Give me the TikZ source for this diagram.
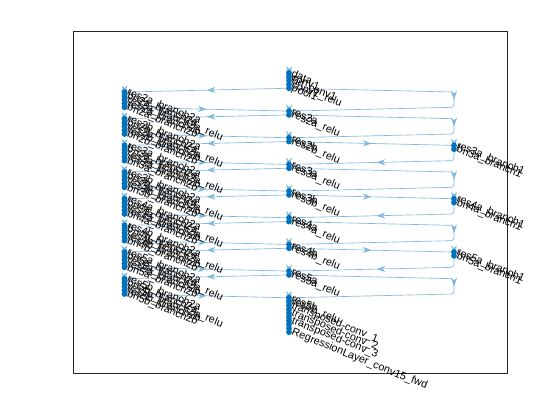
\documentclass[tikz,border=0pt]{standalone}
\usepackage{fontspec}
\setmainfont{Liberation Sans}
\usetikzlibrary{arrows.meta,decorations.markings}
\definecolor{nodeblue}{rgb}{0,0.447,0.741}
\definecolor{edgeblue}{rgb}{0.5,0.724,0.871}
\definecolor{axisgray}{rgb}{0.15,0.15,0.15}
\pgfdeclarelayer{edges}
\pgfsetlayers{edges,main}

\tikzset{
  layer/.style={circle, fill=nodeblue, inner sep=0pt, minimum size=5.8pt, label distance=2.6pt},
  lbl/.style={anchor=west, rotate=-22, inner sep=0pt, font=\fontsize{10.8}{12}\selectfont},
  conn/.style={edgeblue, line width=0.65pt, postaction={decorate},
    decoration={markings, mark=at position 0.5 with {\arrow{Stealth[length=8.5pt,width=6pt,inset=2.5pt]}}}},
}

\begin{document}
\begin{tikzpicture}[x=1pt,y=-1pt]
\useasboundingbox (0,0) rectangle (560,420);
\draw[axisgray, line width=0.7pt] (73,31) rectangle (507,373);

\begin{scope}[y=-3.81pt, yshift=-69.19pt]
% stem
\node[layer, label={[lbl]0:data}] (data) at (289,1) {};
\node[layer, label={[lbl]0:conv1}] (conv1) at (289,2) {};
\node[layer, label={[lbl]0:bn\_conv1}] (bnconv1) at (289,3) {};
\node[layer, label={[lbl]0:conv1\_relu}] (relu1) at (289,4) {};
\node[layer, label={[lbl]0:pool1}] (pool1) at (289,5) {};
\begin{pgfonlayer}{edges}
\draw[conn] (data.center) -- (conv1.center);
\draw[conn] (conv1.center) -- (bnconv1.center);
\draw[conn] (bnconv1.center) -- (relu1.center);
\draw[conn] (relu1.center) -- (pool1.center);
\end{pgfonlayer}

% residual blocks: name / first layer / input / has branch1
\foreach \p/\k/\src/\ds in {2a/5/pool1/0, 2b/12/relu2a/0, 3a/19/relu2b/1, 3b/26/relu3a/0,
    4a/33/relu3b/1, 4b/40/relu4a/0, 5a/47/relu4b/1, 5b/54/relu5a/0} {
  \node[layer, label={[lbl]0:res\p\_branch2a}] (b\p-1) at (124.5,\k+1) {};
  \node[layer, label={[lbl]0:bn\p\_branch2a}] (b\p-2) at (124.5,\k+2) {};
  \node[layer, label={[lbl]0:res\p\_branch2a\_relu}] (b\p-3) at (124.5,\k+3) {};
  \node[layer, label={[lbl]0:res\p\_branch2b}] (b\p-4) at (124.5,\k+4) {};
  \node[layer, label={[lbl]0:bn\p\_branch2b}] (b\p-5) at (124.5,\k+5) {};
  \node[layer, label={[lbl]0:res\p}] (add\p) at (289,\k+6) {};
  \node[layer, label={[lbl]0:res\p\_relu}] (relu\p) at (289,\k+7) {};
  \begin{pgfonlayer}{edges}
  \draw[conn] (\src.center) -- (b\p-1.center);
  \draw[conn] (b\p-1.center) -- (b\p-2.center);
  \draw[conn] (b\p-2.center) -- (b\p-3.center);
  \draw[conn] (b\p-3.center) -- (b\p-4.center);
  \draw[conn] (b\p-4.center) -- (b\p-5.center);
  \draw[conn] (b\p-5.center) -- (add\p.center);
  \draw[conn] (add\p.center) -- (relu\p.center);
  \end{pgfonlayer}
  \ifnum\ds=1
    \node[layer, label={[lbl]0:res\p\_branch1}] (s\p-1) at (454,\k+1) {};
    \node[layer, label={[lbl]0:bn\p\_branch1}] (s\p-2) at (454,\k+2) {};
    \coordinate (sk\p) at (454,\k+5);
    \begin{pgfonlayer}{edges}
    \draw[conn] (\src.center) -- (s\p-1.center);
    \draw[conn] (s\p-1.center) -- (s\p-2.center);
    \draw[conn, rounded corners=3pt] (s\p-2.center) -- (sk\p) -- (add\p.center);
    \end{pgfonlayer}
  \else
    \coordinate (sk\p-t) at (454,\k+1);
    \coordinate (sk\p-b) at (454,\k+5);
    \begin{pgfonlayer}{edges}
    \draw[conn, rounded corners=3pt] (\src.center) -- (sk\p-t) -- (sk\p-b) -- (add\p.center);
    \end{pgfonlayer}
  \fi
}

% decoder
\node[layer, label={[lbl]0:transposed-conv\_1}] (tc1) at (289,62) {};
\node[layer] (d63) at (289,63) {};
\node[layer, label={[lbl]0:transposed-conv\_2}] (tc2) at (289,64) {};
\node[layer] (d65) at (289,65) {};
\node[layer, label={[lbl]0:transposed-conv\_3}] (tc3) at (289,66) {};
\node[layer] (d67) at (289,67) {};
\node[layer] (d68) at (289,68) {};
\node[layer, label={[lbl]0:RegressionLayer\_conv15\_fwd}] (reg) at (289,69) {};
\begin{pgfonlayer}{edges}
\draw[conn] (relu5b.center) -- (tc1.center);
\draw[conn] (tc1.center) -- (d63.center);
\draw[conn] (d63.center) -- (tc2.center);
\draw[conn] (tc2.center) -- (d65.center);
\draw[conn] (d65.center) -- (tc3.center);
\draw[conn] (tc3.center) -- (d67.center);
\draw[conn] (d67.center) -- (d68.center);
\draw[conn] (d68.center) -- (reg.center);
\end{pgfonlayer}
\end{scope}
\end{tikzpicture}
\end{document}
